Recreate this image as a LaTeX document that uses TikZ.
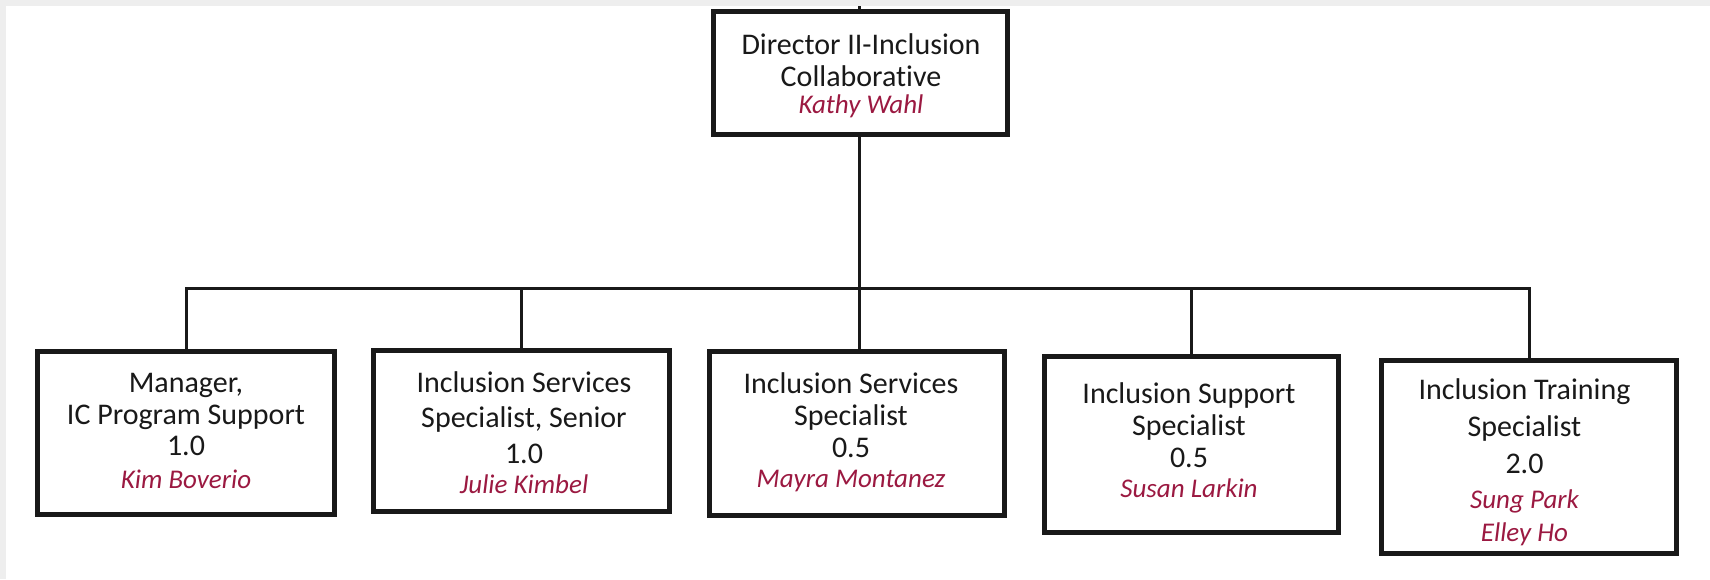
\documentclass[tikz,border=0pt]{standalone}
\usepackage{fontspec}
\setmainfont{Carlito}[Ligatures=NoCommon]
\definecolor{namecol}{RGB}{155,25,65}
\definecolor{edgegray}{RGB}{238,238,238}
\tikzset{
  orgbox/.style={draw=black!90, line width=2.5pt, inner sep=0pt, fill=white},
  conn/.style={draw=black!90, line width=1.5pt},
  ttl/.style={anchor=base, inner sep=0pt, font=\fontsize{15}{17}\selectfont, text=black!90},
  nm/.style={anchor=base, inner sep=0pt, font=\fontsize{13.5}{15}\selectfont\itshape, text=namecol},
}
\begin{document}
\begin{tikzpicture}[x=0.5pt,y=-0.5pt]
\useasboundingbox (0,0) rectangle (1710,579);
\fill[white] (0,0) rectangle (1710,579);
\fill[edgegray] (0,0) rectangle (1710,6);
\fill[edgegray] (0,0) rectangle (6,579);

% boxes
\node[orgbox, minimum width=147pt, minimum height=61.5pt] (top) at (860.5,73) {};
\node[orgbox, minimum width=148.5pt, minimum height=81.5pt] (b1) at (186,433) {};
\node[orgbox, minimum width=148pt, minimum height=80.5pt] (b2) at (521.5,431) {};
\node[orgbox, minimum width=147.5pt, minimum height=82pt] (b3) at (857,433.5) {};
\node[orgbox, minimum width=147pt, minimum height=88pt] (b4) at (1191.5,444.5) {};
\node[orgbox, minimum width=147.5pt, minimum height=96.5pt] (b5) at (1529,457) {};

% connectors
\coordinate (stub) at (859,6);
\coordinate (bus) at (859,288);
\draw[conn] (stub) -- (stub |- top.north);
\draw[conn] (bus |- top.south) -- (bus);
\draw[conn] (b1.north) |- (bus) -| (b5.north);
\draw[conn] (b2.north) -- (b2.north |- bus);
\draw[conn] (bus) -- (bus |- b3.north);
\draw[conn] (b4.north) -- (b4.north |- bus);

% texts
\node[ttl] (t01) at (861,54) {Director II-Inclusion};
\node[ttl] (t02) at (861,86) {Collaborative};
\node[nm]  (t03) at (861,113) {Kathy Wahl};

\node[ttl] (t11) at (186,392) {Manager,};
\node[ttl] (t12) at (186,424) {IC Program Support};
\node[ttl] (t13) at (186,455) {1.0};
\node[nm]  (t14) at (186,488) {Kim Boverio};

\node[ttl] (t21) at (524,392) {Inclusion Services};
\node[ttl] (t22) at (524,427) {Specialist, Senior};
\node[ttl] (t23) at (524,463) {1.0};
\node[nm]  (t24) at (524,493) {Julie Kimbel};

\node[ttl] (t31) at (851,393) {Inclusion Services};
\node[ttl] (t32) at (851,425) {Specialist};
\node[ttl] (t33) at (851,457) {0.5};
\node[nm]  (t34) at (851,487) {Mayra Montanez};

\node[ttl] (t41) at (1189,403) {Inclusion Support};
\node[ttl] (t42) at (1189,435) {Specialist};
\node[ttl] (t43) at (1189,467) {0.5};
\node[nm]  (t44) at (1189,497) {Susan Larkin};

\node[ttl] (t51) at (1524.5,399) {Inclusion Training};
\node[ttl] (t52) at (1524.5,436) {Specialist};
\node[ttl] (t53) at (1524.5,473) {2.0};
\node[nm]  (t54) at (1524.5,508) {Sung Park};
\node[nm]  (t55) at (1524.5,541) {Elley Ho};
\end{tikzpicture}
\end{document}
